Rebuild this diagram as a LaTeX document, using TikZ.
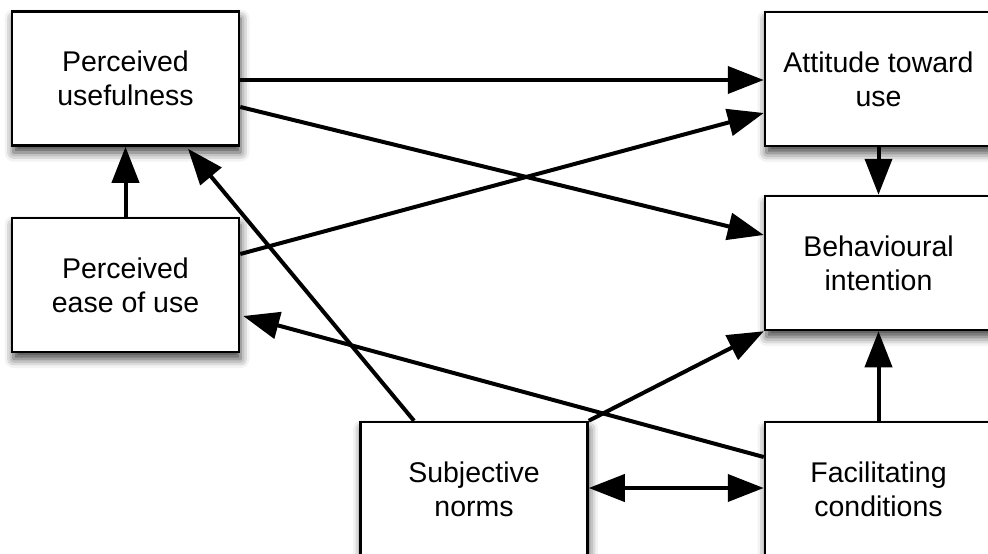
\documentclass[tikz,border=0pt]{standalone}
\usepackage{fontspec}
\setmainfont{Liberation Sans}
\usetikzlibrary{arrows.meta,shadows.blur}

\begin{document}
\begin{tikzpicture}[x=1pt,y=-1pt,
  box/.style={draw, line width=2.5pt, fill=white,
    minimum width=227pt, minimum height=134pt, inner sep=0pt,
    align=center, font=\fontsize{28.5}{34}\selectfont,
    blur shadow={shadow xshift=1.5pt, shadow yshift=-7pt,
      shadow blur radius=9pt, shadow opacity=75}},
  link/.style={line width=4pt, -{Triangle[length=36pt,width=27pt]}},
  dlink/.style={line width=4pt, {Triangle[length=36pt,width=27pt]}-{Triangle[length=36pt,width=27pt]}}]
\useasboundingbox (0,0) rectangle (988,554);
\clip (0,0) rectangle (988,554);

% model constructs
\node[box] (pu)   at (125.5,78.5) {Perceived\\usefulness};
\node[box] (peou) at (125.5,285)  {Perceived\\ease of use};
\node[box] (atu)  at (878.5,79)   {Attitude toward\\use};
\node[box] (bi)   at (878.5,263)  {Behavioural\\intention};
\node[box] (sn)   at (474,489)    {Subjective\\norms};
\node[box] (fc)   at (878.5,489)  {Facilitating\\conditions};

% hypothesised paths
\draw[link] ([yshift=-1.5pt]pu.east) -- ([yshift=-1pt]atu.west);
\draw[link] ([yshift=-28.5pt]pu.east) -- ([yshift=28pt]bi.west);
\draw[link] ([yshift=31pt]peou.east) -- ([yshift=-34pt]atu.west);
\draw[link] (peou.north) -- (pu.south);
\draw[link] ([xshift=-60pt]sn.north) -- ([xshift=62.5pt,yshift=-2pt]pu.south);
\draw[link] ([yshift=32pt]fc.west) -- ([xshift=3pt,yshift=-31pt]peou.east);
\draw[link] (sn.north east) -- (bi.south west);
\draw[dlink] ([yshift=1pt]sn.east) -- ([yshift=1pt]fc.west);
\draw[link] (atu.south) -- (bi.north);
\draw[link] (fc.north) -- (bi.south);
\end{tikzpicture}
\end{document}
